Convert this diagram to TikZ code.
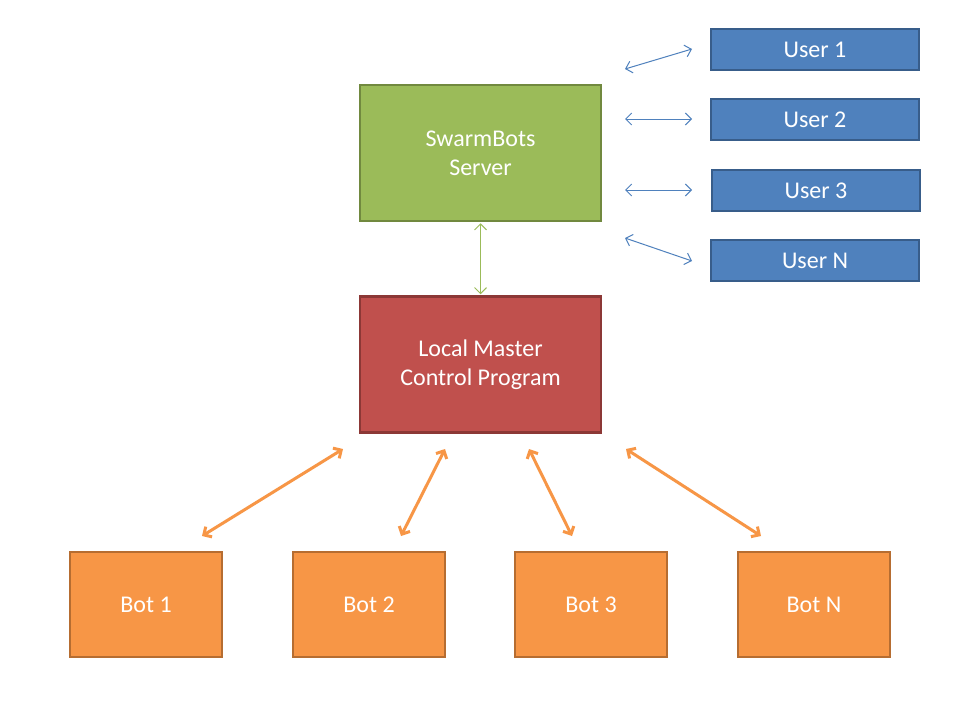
\documentclass[tikz,border=0pt]{standalone}
\usepackage{fontspec}
\setmainfont{Carlito}
\usetikzlibrary{arrows.meta}
\definecolor{ublue}{HTML}{4F81BD}
\definecolor{ubluedk}{HTML}{385D8A}
\definecolor{sgreen}{HTML}{9BBB59}
\definecolor{sgreendk}{HTML}{71893F}
\definecolor{lred}{HTML}{C0504D}
\definecolor{lreddk}{HTML}{8C3836}
\definecolor{borange}{HTML}{F79646}
\definecolor{borangedk}{HTML}{B66D31}
\begin{document}
\begin{tikzpicture}[x=1pt,y=-1pt,
  box/.style={draw, line width=2.5pt, text=white, align=center, inner sep=0pt,
    font=\fontsize{24}{29}\selectfont},
  userbox/.style={box, fill=ublue, draw=ubluedk, minimum width=208pt, minimum height=41pt},
  bigbox/.style={box, minimum width=241pt, minimum height=136pt},
  botbox/.style={box, fill=borange, draw=borangedk, minimum width=152pt, minimum height=105pt},
  thinarrow/.style={line width=1pt, {Straight Barb[length=6pt,width=12pt]}-{Straight Barb[length=6pt,width=12pt]}},
  thickarrow/.style={draw=borange, line width=3pt, {Straight Barb[length=6pt,width=12pt]}-{Straight Barb[length=6pt,width=12pt]}}
]
\useasboundingbox (0,0) rectangle (960,720);
\fill[white] (0,0) rectangle (960,720);

\node[userbox] (u1) at (815,49.5) {User 1};
\node[userbox] (u2) at (815,119.5) {User 2};
\node[userbox] (u3) at (816,190.5) {User 3};
\node[userbox] (uN) at (815,260.5) {User N};

\node[bigbox, fill=sgreen, draw=sgreendk] (srv) at (480.5,153) {SwarmBots\\Server};
\node[bigbox, fill=lred, draw=lreddk] (lmc) at (480.5,364.5) {Local Master\\Control Program};

\node[botbox] (b1) at (146,604.5) {Bot 1};
\node[botbox] (b2) at (369,604.5) {Bot 2};
\node[botbox] (b3) at (591,604.5) {Bot 3};
\node[botbox] (bN) at (814,604.5) {Bot N};

% free arrow ends
\coordinate (a1s) at (625,69);  \coordinate (a1e) at (692,49);
\coordinate (a2s) at (625,119); \coordinate (a2e) at (692,119);
\coordinate (a3s) at (625,190); \coordinate (a3e) at (692,190);
\coordinate (aNs) at (625,238); \coordinate (aNe) at (692,261);

\coordinate (c1s) at (343,449); \coordinate (c1e) at (202,536);
\coordinate (c2s) at (445,449); \coordinate (c2e) at (401,536);
\coordinate (c3s) at (529,449); \coordinate (c3e) at (572,536);
\coordinate (cNs) at (626,449); \coordinate (cNe) at (761,536);

\draw[thinarrow, draw=ublue] (a1s) -- (a1e);
\draw[thinarrow, draw=ublue] (a2s) -- (a2e);
\draw[thinarrow, draw=ublue] (a3s) -- (a3e);
\draw[thinarrow, draw=ublue] (aNs) -- (aNe);

\draw[thinarrow, draw=sgreen, shorten <=1pt, shorten >=1pt] (srv.south) -- (lmc.north);

\draw[thickarrow] (c1s) -- (c1e);
\draw[thickarrow] (c2s) -- (c2e);
\draw[thickarrow] (c3s) -- (c3e);
\draw[thickarrow] (cNs) -- (cNe);
\end{tikzpicture}
\end{document}
